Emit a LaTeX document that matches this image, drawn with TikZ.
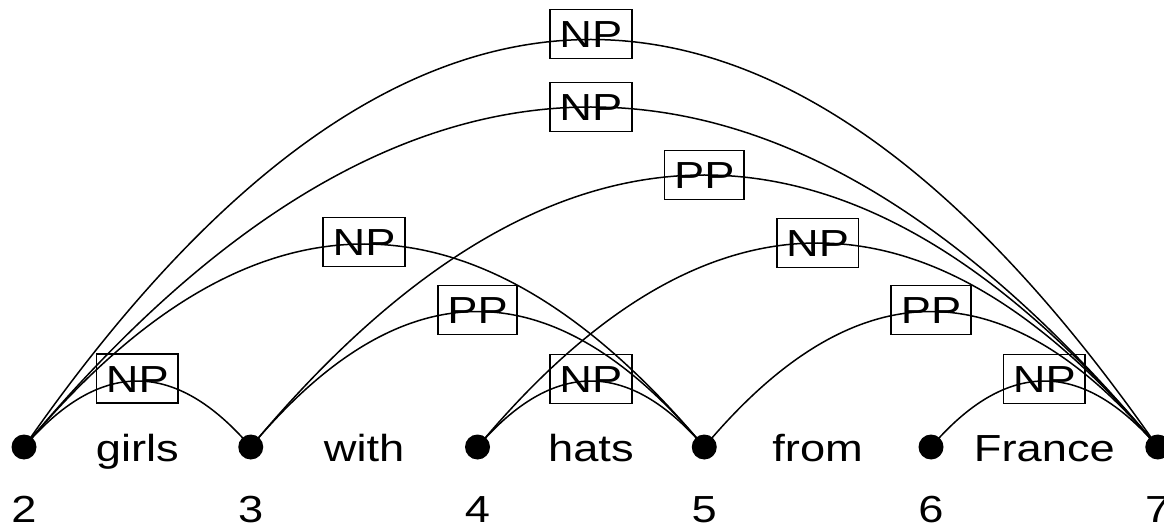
\documentclass[tikz,border=0pt]{standalone}
\usepackage{fontspec}
\setmainfont[FakeStretch=1.2]{Liberation Sans}
\usetikzlibrary{calc}
\begin{document}
\begin{tikzpicture}[x=1pt,y=1pt,
  every node/.style={font=\fontsize{37.7}{40}\selectfont},
  dot/.style={circle,fill=black,inner sep=0pt,minimum size=25pt},
  lbl/.style={draw,line width=1.7pt,inner xsep=9.5pt,inner ysep=11pt,text height=27pt,text depth=0pt},
  arcline/.style={line width=1.5pt},
  word/.style={anchor=base,inner sep=0pt}]
\useasboundingbox (0,0) rectangle (1164,528);
% chart positions
\foreach \i/\x in {2/24,3/250.75,4/477.5,5/704.25,6/931,7/1157.75}{
  \coordinate (p\i) at (\x,81);
  \node[word] (n\i) at (\x,5.5) {\i};
}
% words
\node[word] (wgirls)  at ($(p2)!.5!(p3)+(0,-14.7)$) {girls};
\node[word] (wwith)   at ($(p3)!.5!(p4)+(0,-14.7)$) {with};
\node[word] (whats)   at ($(p4)!.5!(p5)+(0,-14.7)$) {hats};
\node[word] (wfrom)   at ($(p5)!.5!(p6)+(0,-14.7)$) {from};
\node[word] (wfrance) at ($(p6)!.5!(p7)+(0,-14.7)$) {France};
% labels
\foreach \a/\b/\l/\t [count=\k] in {2/3/68.5/NP,2/5/205/NP,3/5/137/PP,4/5/68/NP,4/7/204/NP,5/7/137/PP,6/7/68/NP,3/7/272/PP,2/7/340/NP,2/7/413/NP}{
  \node[lbl] (l\k) at ($(p\a)!.5!(p\b)+(0,\l)$) {\t};
}
% arcs (parabolic: quadratic Bezier written as a cubic)
\foreach \a/\b/\h in {2/3/66,2/5/203,3/5/135.5,4/5/66,4/7/204,5/7/135.5,6/7/66,3/7/272,2/7/340,2/7/407.5}{
  \draw[arcline] (p\a) .. controls ($(p\a)!1/3!(p\b)+(0,4*\h/3)$) and ($(p\a)!2/3!(p\b)+(0,4*\h/3)$) .. (p\b);
}
% dots
\foreach \i in {2,...,7}{
  \node[dot] (d\i) at (p\i) {};
}
\end{tikzpicture}
\end{document}
